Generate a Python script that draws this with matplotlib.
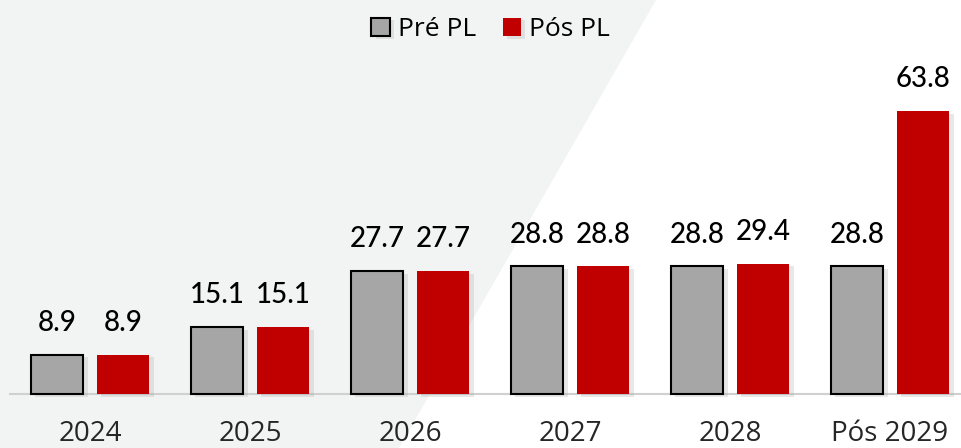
import matplotlib.pyplot as plt
import matplotlib.patheffects as pe
from matplotlib.patches import Polygon
import numpy as np

anos = ['2024', '2025', '2026', '2027', '2028', 'Pós 2029']
pre_pl = [8.9, 15.1, 27.7, 28.8, 28.8, 28.8]
pos_pl = [8.9, 15.1, 27.7, 28.8, 29.4, 63.8]

cinza = '#a6a6a6'
vermelho = '#c00000'

fig = plt.figure(figsize=(9.62, 4.48), dpi=100)
fig.patch.set_facecolor('white')

ax = fig.add_axes([0, 0, 1, 1])
ax.set_facecolor('none')

# faixa cinza diagonal do fundo
fundo = Polygon([(0, 0), (0, 1), (656 / 962, 1), (399 / 962, 0)], closed=True,
                transform=ax.transAxes, facecolor='#f2f3f3', edgecolor='none', zorder=0)
ax.add_patch(fundo)

x = np.arange(len(anos))
largura = 0.33
desloc = 0.206
sombra = [pe.SimplePatchShadow(offset=(3, -2), shadow_rgbFace='#999999', alpha=0.22), pe.Normal()]

b1 = ax.bar(x - desloc, pre_pl, largura, color=cinza, edgecolor='black', linewidth=1.5,
            label='Pré PL', zorder=3)
b2 = ax.bar(x + desloc, pos_pl, largura, color=vermelho, edgecolor='none',
            label='Pós PL', zorder=3)
for b in list(b1) + list(b2):
    b.set_path_effects(sombra)

for xi, v in zip(x - desloc, pre_pl):
    ax.text(xi, v + 4.2, f'{v:.1f}', ha='center', va='bottom', fontsize=20,
            family='Lato', weight='medium', color='black', zorder=4)
for xi, v in zip(x + desloc, pos_pl):
    ax.text(xi, v + 4.2, f'{v:.1f}', ha='center', va='bottom', fontsize=20,
            family='Lato', weight='medium', color='black', zorder=4)

for xi, nome in zip(x, anos):
    ax.text(xi, -9.0, nome, ha='center', va='center', fontsize=20,
            family='Open Sans', color='#262626', zorder=4)

ax.plot([-0.5, 5.6], [0, 0], color='#d0d0d0', linewidth=1.5, zorder=2, clip_on=False)

ax.set_xlim(-90 / 160, 872 / 160)
ax.set_ylim(-54 / 4.437, 394 / 4.437)
ax.axis('off')

leg = fig.legend(loc='upper center', bbox_to_anchor=(0.51, 1.0), ncol=2, frameon=False,
                 prop={'family': 'Open Sans', 'size': 19}, handlelength=0.7, handleheight=0.7,
                 handletextpad=0.3, columnspacing=1.0, borderaxespad=0.25)

fig.savefig('out.png', dpi=100, facecolor=fig.get_facecolor())
